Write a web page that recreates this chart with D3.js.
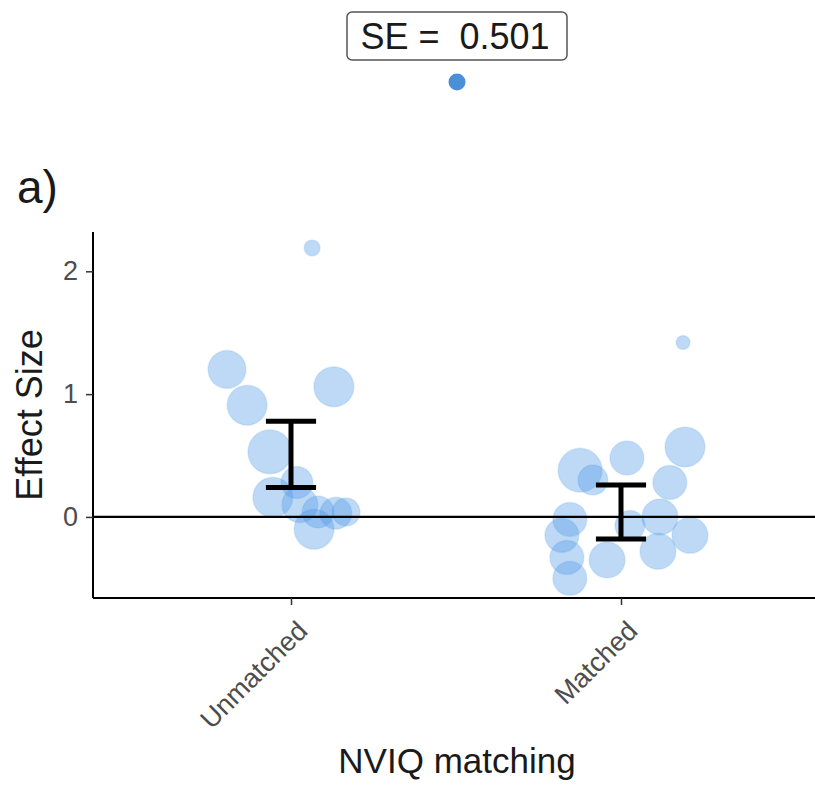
<!DOCTYPE html>
<meta charset="utf-8">
<head>
    <script src="https://d3js.org/d3.v7.min.js"></script>
    <style>
        body { margin: 0; background: white; }
        text { font-family: "Liberation Sans", Arial, sans-serif; }
    </style>
</head>
<body>
<script type="text/javascript">

    // categories and summary bars
    var categories = ["Unmatched", "Matched"];
    var ciLower = [0.24, -0.18];
    var ciUpper = [0.78, 0.26];

    // individual studies: effect size, jitter (category units), weight
    var unmatchedES     = [2.19, 1.20, 0.91, 1.06, 0.53, 0.16, 0.28, 0.10, 0.04, 0.03, 0.04, -0.10];
    var unmatchedJitter = [0.064, -0.194, -0.133, 0.130, -0.064, -0.055, 0.018, 0.027, 0.082, 0.136, 0.167, 0.070];
    var unmatchedWeight = [66, 373, 413, 413, 500, 413, 264, 335, 264, 264, 202, 413];

    var matchedES     = [1.42, 0.57, 0.48, 0.38, 0.30, 0.28, 0.00, -0.02, -0.15, -0.33, -0.50, -0.35, -0.28, -0.15, -0.07];
    var matchedJitter = [0.188, 0.194, 0.018, -0.124, -0.085, 0.148, 0.118, -0.155, -0.179, -0.164, -0.155, -0.042, 0.112, 0.209, 0.027];
    var matchedWeight = [51, 413, 299, 500, 232, 299, 335, 299, 299, 299, 299, 335, 335, 335, 232];

    var yTicks = [0, 1, 2];
    var seLabel = "SE =  0.501";

    var width = 815;
    var height = 787;
    var margin = {top: 232, bottom: 598, left: 93, right: 819};

    var svg = d3.select("body")
        .append("svg")
        .attr("width", width)
        .attr("height", height);

    var x = d3.scaleLinear()
        .domain([0.4, 2.6])
        .range([margin.left, margin.right]);

    var y = d3.scaleLinear()
        .domain([-0.66, 2.32])
        .range([margin.bottom, margin.top]);

    var r = d3.scaleSqrt()
        .domain([0, 500])
        .range([0, 22]);

    // build point list
    var points = [];
    unmatchedES.forEach(function (v, i) {
        points.push({cat: 1, es: v, jit: unmatchedJitter[i], w: unmatchedWeight[i]});
    });
    matchedES.forEach(function (v, i) {
        points.push({cat: 2, es: v, jit: matchedJitter[i], w: matchedWeight[i]});
    });

    // points
    svg.append("g")
        .selectAll("circle")
        .data(points)
        .enter()
        .append("circle")
        .attr("cx", function (d) { return x(d.cat + d.jit); })
        .attr("cy", function (d) { return y(d.es); })
        .attr("r", function (d) { return r(d.w); })
        .attr("fill", "#4a97e6")
        .attr("fill-opacity", 0.36)
        .attr("stroke", "#4a97e6")
        .attr("stroke-opacity", 0.15)
        .attr("stroke-width", 1.5);

    // zero line
    svg.append("line")
        .attr("x1", x(0.4))
        .attr("x2", x(2.6))
        .attr("y1", y(0))
        .attr("y2", y(0))
        .attr("stroke", "black")
        .attr("stroke-width", 2.2);

    // error bars
    var bars = svg.append("g")
        .selectAll("g")
        .data(categories)
        .enter()
        .append("g");
    bars.append("line")
        .attr("x1", function (d, i) { return x(i + 1); })
        .attr("x2", function (d, i) { return x(i + 1); })
        .attr("y1", function (d, i) { return y(ciLower[i]); })
        .attr("y2", function (d, i) { return y(ciUpper[i]); })
        .attr("stroke", "black")
        .attr("stroke-width", 5);
    bars.append("line")
        .attr("x1", function (d, i) { return x(i + 1 - 0.076); })
        .attr("x2", function (d, i) { return x(i + 1 + 0.076); })
        .attr("y1", function (d, i) { return y(ciUpper[i]); })
        .attr("y2", function (d, i) { return y(ciUpper[i]); })
        .attr("stroke", "black")
        .attr("stroke-width", 5);
    bars.append("line")
        .attr("x1", function (d, i) { return x(i + 1 - 0.076); })
        .attr("x2", function (d, i) { return x(i + 1 + 0.076); })
        .attr("y1", function (d, i) { return y(ciLower[i]); })
        .attr("y2", function (d, i) { return y(ciLower[i]); })
        .attr("stroke", "black")
        .attr("stroke-width", 5);

    // y axis
    var yAxis = svg.append("g")
        .attr("transform", "translate(" + margin.left + ",0)")
        .call(d3.axisLeft(y).tickValues(yTicks).tickSize(7).tickPadding(8).tickFormat(d3.format("d")));
    yAxis.select(".domain").attr("stroke", "black").attr("stroke-width", 2).attr("d", "M0," + margin.top + "V" + margin.bottom);
    yAxis.selectAll(".tick line").attr("stroke", "#333").attr("stroke-width", 1.5);
    yAxis.selectAll(".tick text").attr("fill", "#4d4d4d").style("font-size", "27px");

    // x axis
    var xAxis = svg.append("g")
        .attr("transform", "translate(0," + margin.bottom + ")")
        .call(d3.axisBottom(x).tickValues([1, 2]).tickSize(7).tickFormat(function (d) { return categories[d - 1]; }));
    xAxis.select(".domain").attr("stroke", "black").attr("stroke-width", 2).attr("d", "M" + margin.left + ",0H" + margin.right);
    xAxis.selectAll(".tick line").attr("stroke", "#333").attr("stroke-width", 1.5);
    xAxis.selectAll(".tick text")
        .attr("fill", "#4d4d4d")
        .style("font-size", "27px")
        .attr("text-anchor", "end")
        .attr("y", 0)
        .attr("dy", "0.71em")
        .attr("transform", "translate(4,21) rotate(-45)");

    // axis titles
    svg.append("text")
        .attr("x", (margin.left + margin.right) / 2 + 1)
        .attr("y", 773)
        .attr("text-anchor", "middle")
        .style("font-size", "35px")
        .attr("fill", "#1a1a1a")
        .text("NVIQ matching");

    svg.append("text")
        .attr("transform", "translate(42," + 415 + ") rotate(-90)")
        .attr("text-anchor", "middle")
        .style("font-size", "36px")
        .attr("fill", "#1a1a1a")
        .text("Effect Size");

    // panel tag
    svg.append("text")
        .attr("x", 17)
        .attr("y", 203)
        .style("font-size", "46px")
        .attr("fill", "#1a1a1a")
        .text("a)");

    // legend box at top
    var legend = svg.append("g");
    legend.append("rect")
        .attr("x", 347)
        .attr("y", 12)
        .attr("width", 220)
        .attr("height", 48)
        .attr("rx", 5)
        .attr("fill", "white")
        .attr("stroke", "#555")
        .attr("stroke-width", 1.5);
    legend.append("text")
        .attr("x", 455)
        .attr("y", 49)
        .attr("text-anchor", "middle")
        .style("font-size", "36px")
        .attr("fill", "#1a1a1a")
        .style("white-space", "pre")
        .attr("xml:space", "preserve")
        .text(seLabel);
    legend.append("circle")
        .attr("cx", 457)
        .attr("cy", 82)
        .attr("r", 8.5)
        .attr("fill", "#4a90d9");

</script>
</body>
</html>
